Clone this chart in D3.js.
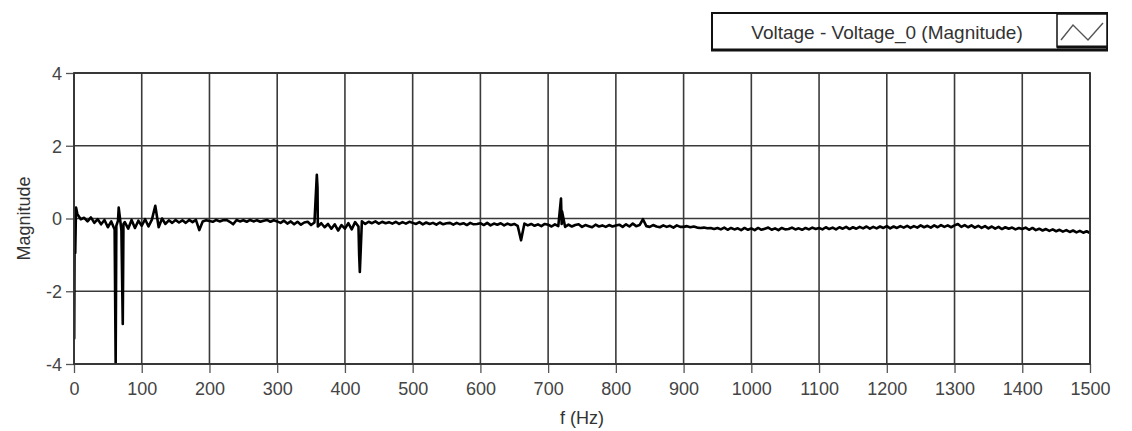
<!DOCTYPE html>
<html>
<head>
<meta charset="utf-8">
<script src="https://cdn.jsdelivr.net/npm/d3@7"></script>
<style>
  body { margin: 0; background: #fff; }
  svg { display: block; font-family: "Liberation Sans", Arial, sans-serif; }
  .tick text { fill: #444; }
</style>
</head>
<body>
<svg id="chart" width="1132" height="431"></svg>
<script>
var baseMag = [
  -0.05, 0.12, -0.02, 0.02, -0.08, 0.03, -0.12, -0.02, -0.16, -0.04, -0.24, -0.08, -0.30, -0.06, -0.32, -0.10, -0.28, -0.04, -0.26, -0.06,
  -0.20, -0.02, -0.22, -0.03, 0.35, -0.24, 0.00, -0.15, -0.05, -0.12, -0.04, -0.11, -0.05, -0.12, -0.04, -0.10, -0.04, -0.32, -0.08, -0.05,
  -0.07, -0.09, -0.04, -0.08, -0.05, -0.04, -0.09, -0.16, -0.04, -0.08, -0.05, -0.09, -0.04, -0.08, -0.05, -0.09, -0.06, -0.04, -0.09, -0.05,
  -0.08, -0.12, -0.06, -0.14, -0.08, -0.16, -0.09, -0.17, -0.11, -0.09, -0.18, -0.11, -0.22, -0.13, -0.24, -0.15, -0.28, -0.16, -0.33, -0.18,
  -0.28, -0.13, -0.30, -0.10, -0.22, -0.08, -0.15, -0.09, -0.13, -0.08, -0.14, -0.09, -0.13, -0.10, -0.14, -0.09, -0.15, -0.10, -0.14, -0.09,
  -0.12, -0.15, -0.10, -0.16, -0.11, -0.15, -0.12, -0.17, -0.11, -0.16, -0.13, -0.12, -0.17, -0.12, -0.16, -0.13, -0.18, -0.12, -0.16, -0.15,
  -0.13, -0.18, -0.12, -0.19, -0.14, -0.17, -0.13, -0.19, -0.14, -0.18, -0.15, -0.20, -0.60, -0.14, -0.19, -0.15, -0.20, -0.16, -0.21, -0.15,
  -0.17, -0.22, -0.16, -0.21, -0.15, -0.23, -0.17, -0.22, -0.18, -0.16, -0.23, -0.18, -0.21, -0.24, -0.17, -0.22, -0.19, -0.23, -0.18, -0.22,
  -0.19, -0.17, -0.23, -0.16, -0.22, -0.14, -0.21, -0.18, -0.02, -0.21, -0.23, -0.18, -0.22, -0.24, -0.19, -0.23, -0.20, -0.25, -0.19, -0.23,
  -0.23, -0.21, -0.24, -0.22, -0.25, -0.26, -0.25, -0.27, -0.26, -0.29, -0.26, -0.30, -0.25, -0.31, -0.26, -0.30, -0.27, -0.32, -0.26, -0.31,
  -0.27, -0.32, -0.26, -0.31, -0.28, -0.25, -0.31, -0.27, -0.32, -0.26, -0.30, -0.29, -0.25, -0.30, -0.27, -0.31, -0.26, -0.30, -0.25, -0.29,
  -0.26, -0.30, -0.24, -0.29, -0.25, -0.30, -0.24, -0.28, -0.23, -0.29, -0.24, -0.28, -0.23, -0.27, -0.22, -0.28, -0.23, -0.27, -0.22, -0.26,
  -0.21, -0.27, -0.22, -0.26, -0.21, -0.25, -0.20, -0.26, -0.21, -0.25, -0.19, -0.24, -0.20, -0.25, -0.19, -0.24, -0.18, -0.23, -0.19, -0.24,
  -0.19, -0.15, -0.23, -0.18, -0.24, -0.19, -0.25, -0.20, -0.26, -0.21, -0.27, -0.22, -0.28, -0.23, -0.29, -0.24, -0.28, -0.25, -0.30, -0.26,
  -0.29, -0.25, -0.31, -0.26, -0.32, -0.28, -0.33, -0.29, -0.34, -0.30, -0.35, -0.31, -0.36, -0.32, -0.37, -0.33, -0.38, -0.34, -0.39, -0.35,
  -0.40
];
var baseStep = 5;

// narrow spikes between the 5 Hz samples
var spikeFreq = [0.3, 1.0, 1.8, 3.0, 61.5, 62.5, 66, 72, 73, 358.5, 359.5, 421, 422, 719, 720.5];
var spikeMag  = [-3.3, 0.05, -0.95, 0.3, -4.0, -0.2, 0.3, -2.9, -0.15, 1.2, 0.85, -1.0, -1.47, 0.55, 0.2];

var xTicks = d3.range(0, 1501, 100);
var yTicks = [-4, -2, 0, 2, 4];
var seriesName = "Voltage - Voltage_0 (Magnitude)";

var margin = {top: 73, right: 42, bottom: 67, left: 74},
    width = 1132 - margin.left - margin.right,
    height = 431 - margin.top - margin.bottom;

var svg = d3.select("#chart");

var x = d3.scaleLinear().domain([0, 1500]).range([0, width]);
var y = d3.scaleLinear().domain([-4, 4]).range([height, 0]);

var points = baseMag.map(function(v, i) { return {f: i * baseStep, v: v}; });
spikeFreq.forEach(function(f, i) { points.push({f: f, v: spikeMag[i]}); });
points.sort(function(a, b) { return a.f - b.f; });

var g = svg.append("g")
    .attr("transform", "translate(" + margin.left + "," + margin.top + ")");

g.append("clipPath").attr("id", "plot-clip")
  .append("rect").attr("width", width).attr("height", height);

// grid
g.append("g").selectAll("line.vgrid")
    .data(xTicks)
  .enter().append("line")
    .attr("x1", function(d) { return x(d); })
    .attr("x2", function(d) { return x(d); })
    .attr("y1", 0).attr("y2", height)
    .attr("stroke", "#3a3a3a").attr("stroke-width", 1.6);

g.append("g").selectAll("line.hgrid")
    .data(yTicks)
  .enter().append("line")
    .attr("y1", function(d) { return y(d); })
    .attr("y2", function(d) { return y(d); })
    .attr("x1", 0).attr("x2", width)
    .attr("stroke", "#3a3a3a").attr("stroke-width", 1.6);

// axes (plain hyphen for negatives, like the original)
var fmt = function(d) { return String(d); };
var xAxis = g.append("g")
    .attr("transform", "translate(0," + height + ")")
    .call(d3.axisBottom(x).tickValues(xTicks).tickSize(9).tickPadding(9).tickFormat(fmt));
var yAxis = g.append("g")
    .call(d3.axisLeft(y).tickValues(yTicks).tickSize(8).tickPadding(4).tickFormat(fmt));

[xAxis, yAxis].forEach(function(a) {
    a.select(".domain").remove();
    a.selectAll(".tick line").attr("stroke", "#555").attr("stroke-width", 1.3);
    a.selectAll(".tick text").style("font-size", "18px");
});
yAxis.selectAll(".tick text").attr("dy", "0.35em");

// trace
var line = d3.line()
    .x(function(d) { return x(d.f); })
    .y(function(d) { return y(d.v); });

g.append("path")
    .datum(points)
    .attr("clip-path", "url(#plot-clip)")
    .attr("fill", "none")
    .attr("stroke", "#000")
    .attr("stroke-width", 2.6)
    .attr("stroke-linejoin", "round")
    .attr("d", line);

// frame
g.append("rect")
    .attr("width", width).attr("height", height)
    .attr("fill", "none").attr("stroke", "#333").attr("stroke-width", 1.8);

// axis titles
svg.append("text")
    .attr("transform", "translate(24," + (margin.top + height / 2) + ") rotate(-90)")
    .attr("text-anchor", "middle")
    .attr("dy", "0.35em")
    .style("font-size", "18px").attr("fill", "#333")
    .text("Magnitude");

svg.append("text")
    .attr("x", margin.left + x(750))
    .attr("y", 424)
    .attr("text-anchor", "middle")
    .style("font-size", "18px").attr("fill", "#333")
    .text("f (Hz)");

// legend
var legend = svg.append("g");
legend.append("rect")
    .attr("x", 712).attr("y", 13).attr("width", 395).attr("height", 37)
    .attr("fill", "#fff").attr("stroke", "#111").attr("stroke-width", 2);
legend.append("line")
    .attr("x1", 711).attr("x2", 1108).attr("y1", 50).attr("y2", 50)
    .attr("stroke", "#111").attr("stroke-width", 3);
legend.append("text")
    .attr("x", 887).attr("y", 32).attr("dy", "0.35em")
    .attr("text-anchor", "middle")
    .style("font-size", "19px").attr("fill", "#333")
    .text(seriesName);
legend.append("rect")
    .attr("x", 1057).attr("y", 14).attr("width", 50).attr("height", 33)
    .attr("fill", "#fff").attr("stroke", "#111").attr("stroke-width", 1.5);
legend.append("line")
    .attr("x1", 1057).attr("x2", 1107).attr("y1", 47).attr("y2", 47)
    .attr("stroke", "#111").attr("stroke-width", 3);
legend.append("path")
    .attr("d", "M1061,40 L1073,25 L1088,40 L1103,23")
    .attr("fill", "none").attr("stroke", "#555").attr("stroke-width", 1.4);
</script>
</body>
</html>
